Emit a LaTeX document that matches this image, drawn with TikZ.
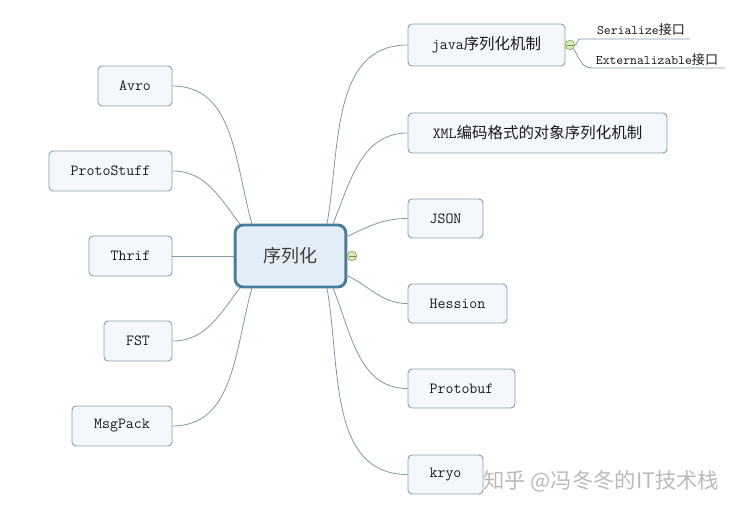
\documentclass[tikz,border=0pt]{standalone}
\usepackage{fontspec}
\newfontfamily\cjk{Noto Sans CJK SC}
\newfontfamily\cjkplain{Noto Sans CJK SC}
\definecolor{leafborder}{HTML}{889FAA}
\definecolor{leaffill}{HTML}{F4F8FC}
\definecolor{rootborder}{HTML}{4C7C9C}
\definecolor{rootfill}{HTML}{E4EEF8}
\definecolor{linecol}{HTML}{7F99A4}
\definecolor{txt}{HTML}{1A1A1A}
\definecolor{togfill}{HTML}{D9EDB4}
\definecolor{togborder}{HTML}{8DB364}
\tikzset{
  leaf/.style={draw=leafborder, fill=leaffill, rounded corners=3pt, line width=0.7pt,
    inner sep=0pt, text=txt, font=\ttfamily\fontsize{11.6}{13}\selectfont, minimum height=30pt},
  root/.style={draw=rootborder, fill=rootfill, rounded corners=6pt, line width=2.2pt,
    inner sep=0pt, text=txt!85, font=\cjkplain\fontsize{13.5}{16}\selectfont,
    minimum width=83pt, minimum height=46.5pt},
  conn/.style={draw=linecol, line width=0.6pt},
  tog/.style={circle, draw=togborder, fill=togfill, line width=0.6pt, inner sep=0pt, minimum size=7pt},
  subtxt/.style={inner sep=0pt, text=txt, font=\ttfamily\fontsize{9.8}{11}\selectfont},
  wmark/.style={text=black!27, font=\cjkplain\fontsize{16}{19}\selectfont, inner sep=0pt}
}
\begin{document}
\begin{tikzpicture}[x=0.75pt,y=-0.75pt]
\useasboundingbox (0,0) rectangle (740,510);
% root
\node[root] (c) at (290.5,256) {序列化};
% right
\node[leaf, minimum width=117.75pt, minimum height=31.5pt] (java) at (486.5,45) {java{\cjk 序列化机制}};
\node[leaf, minimum width=194.25pt] (xml) at (537.5,133) {XML{\cjk 编码格式的对象序列化机制}};
\node[leaf, minimum width=56.25pt, minimum height=29.25pt] (json) at (445.5,218.5) {JSON};
\node[leaf, minimum width=74.25pt, minimum height=29.25pt] (hes) at (457.5,303.5) {Hession};
\node[leaf, minimum width=80.25pt, minimum height=29.25pt] (pb) at (461.5,388.5) {Protobuf};
\node[leaf, minimum width=56.25pt, minimum height=29.25pt] (kryo) at (445.5,474.5) {kryo};
% left
\node[leaf, minimum width=55.5pt] (avro) at (135,86) {Avro};
\node[leaf, minimum width=92.25pt] (ps) at (110.5,171) {ProtoStuff};
\node[leaf, minimum width=62.25pt] (thr) at (130.5,256) {Thrif};
\node[leaf, minimum width=51pt] (fst) at (138,341) {FST};
\node[leaf, minimum width=75pt] (mp) at (122,426) {MsgPack};
% anchor points on root border
\coordinate (ct1) at (240,224);
\coordinate (ct2) at (252,224);
\coordinate (ct3) at (327,224);
\coordinate (ct4) at (333,224);
\coordinate (cb1) at (240,288);
\coordinate (cb2) at (252,288);
\coordinate (cb3) at (327,288);
\coordinate (cb4) at (333,288);
\coordinate (cr1) at (346,237);
\coordinate (cr2) at (346,275);
% left connectors
\draw[conn] (avro.east) to[out=0,in=106] (ct2);
\draw[conn] (ps.east) to[out=0,in=128] (ct1);
\draw[conn] (thr.east) -- (c.west);
\draw[conn] (fst.east) to[out=0,in=-128] (cb1);
\draw[conn] (mp.east) to[out=0,in=-106] (cb2);
% right connectors
\draw[conn] (ct3) to[out=80,in=180] (java.west);
\draw[conn] (ct4) to[out=68,in=180] (xml.west);
\draw[conn] (cr1) to[out=25,in=180] (json.west);
\draw[conn] (cr2) to[out=-25,in=180] (hes.west);
\draw[conn] (cb4) to[out=-68,in=180] (pb.west);
\draw[conn] (cb3) to[out=-80,in=180] (kryo.west);
% java children
\node[tog] (jt) at (570,45) {};
\draw[togborder!80!black, line width=0.6pt] (566.5,45) -- (573.5,45);
\coordinate (s1) at (580,39);
\coordinate (s2) at (690,39);
\coordinate (e1) at (592,68);
\coordinate (e2) at (725,68);
\draw[conn] (jt.east) to[out=20,in=180] (s1) -- (s2);
\draw[conn] (jt.south east) to[out=-60,in=180] (e1) -- (e2);
\node[subtxt] (ser) at (641,29.5) {Serialize{\cjk 接口}};
\node[subtxt] (ext) at (657,59.5) {Externalizable{\cjk 接口}};
% root toggle
\node[tog] (rt) at (352,256) {};
\draw[togborder!80!black, line width=0.6pt] (348.5,256) -- (355.5,256);
% watermark
\node[wmark, anchor=west] (wm) at (483,481) {知乎 @冯冬冬的IT技术栈};
\end{tikzpicture}
\end{document}
